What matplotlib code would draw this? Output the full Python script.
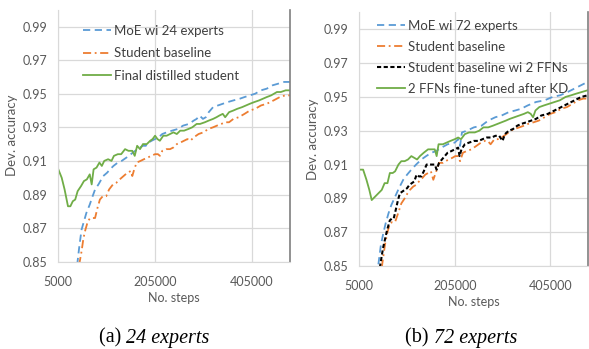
import matplotlib
matplotlib.use("Agg")
import matplotlib.pyplot as plt

# ---- data ----
x_ticks = [5000, 205000, 405000]
y_ticks = [0.85, 0.87, 0.89, 0.91, 0.93, 0.95, 0.97, 0.99]

# (a) 24 experts
moe24_steps = [44000, 48000, 53000, 58000, 63000, 70000, 76000, 81000, 88000, 94000,
               98000, 106000, 112000, 119000, 128000, 136000, 146000, 155000, 164000, 174000,
               180000, 186000, 192000, 198000, 205000, 212000, 220000, 229000, 240000, 252000,
               263000, 275000, 285000, 291000, 297000, 304000, 310000, 316000, 325000, 335000,
               345000, 355000, 367000, 380000, 390000, 401000, 412000, 424000, 436000, 448000,
               460000, 472000, 484000]
moe24_acc = [0.848, 0.858, 0.869, 0.874, 0.879, 0.884, 0.889, 0.893, 0.896, 0.899,
             0.901, 0.903, 0.905, 0.907, 0.909, 0.910, 0.912, 0.914, 0.916, 0.918,
             0.919, 0.919, 0.921, 0.922, 0.923, 0.924, 0.926, 0.927, 0.928, 0.929,
             0.931, 0.932, 0.934, 0.935, 0.937, 0.935, 0.936, 0.939, 0.942, 0.943,
             0.944, 0.945, 0.946, 0.947, 0.948, 0.949, 0.950, 0.952, 0.953, 0.955,
             0.956, 0.957, 0.957]

base24_steps = [48000, 53000, 57000, 61000, 66000, 71000, 76000, 81000, 86000, 91000,
                97000, 104000, 110000, 118000, 125000, 132000, 140000, 148000, 155000, 158000,
                162000, 167000, 175000, 182000, 190000, 197000, 205000, 211000, 215000, 220000,
                228000, 236000, 243000, 250000, 258000, 265000, 272000, 278000, 285000, 295000,
                305000, 315000, 325000, 333000, 342000, 350000, 358000, 367000, 378000, 390000,
                401000, 412000, 424000, 436000, 450000, 463000, 474000, 484000]
base24_acc = [0.848, 0.856, 0.864, 0.869, 0.874, 0.876, 0.876, 0.876, 0.882, 0.887,
              0.889, 0.889, 0.893, 0.896, 0.897, 0.899, 0.901, 0.903, 0.904, 0.901,
              0.905, 0.909, 0.910, 0.911, 0.912, 0.913, 0.914, 0.914, 0.913, 0.916,
              0.917, 0.917, 0.918, 0.920, 0.921, 0.922, 0.923, 0.922, 0.924, 0.926,
              0.927, 0.929, 0.930, 0.931, 0.932, 0.933, 0.933, 0.935, 0.936, 0.938,
              0.940, 0.941, 0.943, 0.944, 0.946, 0.948, 0.949, 0.949]

dist24_steps = [5000, 12000, 18000, 25000, 30000, 35000, 40000, 45000, 52000, 58000,
                64000, 70000, 74000, 78000, 84000, 90000, 95000, 100000, 108000, 115000,
                120000, 128000, 135000, 143000, 150000, 158000, 163000, 168000, 174000, 180000,
                188000, 195000, 200000, 205000, 210000, 215000, 222000, 229000, 236000, 243000,
                250000, 257000, 265000, 274000, 282000, 291000, 298000, 308000, 316000, 325000,
                332000, 338000, 345000, 350000, 358000, 367000, 375000, 385000, 393000, 401000,
                410000, 420000, 428000, 436000, 445000, 457000, 465000, 475000, 484000]
dist24_acc = [0.905, 0.900, 0.893, 0.883, 0.883, 0.886, 0.887, 0.892, 0.895, 0.898,
              0.899, 0.902, 0.896, 0.905, 0.906, 0.909, 0.907, 0.910, 0.911, 0.910,
              0.913, 0.914, 0.914, 0.917, 0.916, 0.916, 0.913, 0.919, 0.917, 0.920,
              0.920, 0.922, 0.923, 0.925, 0.923, 0.922, 0.925, 0.925, 0.926, 0.927,
              0.926, 0.928, 0.928, 0.929, 0.930, 0.932, 0.932, 0.933, 0.934, 0.935,
              0.936, 0.937, 0.938, 0.936, 0.939, 0.940, 0.941, 0.942, 0.943, 0.944,
              0.945, 0.946, 0.947, 0.948, 0.949, 0.951, 0.951, 0.952, 0.952]

# (b) 72 experts
moe72_steps = [45000, 50000, 55000, 60000, 66000, 72000, 80000, 88000, 97000, 105000,
               114000, 124000, 135000, 145000, 156000, 166000, 177000, 190000, 205000, 212000,
               216000, 220000, 230000, 245000, 261000, 275000, 290000, 303000, 318000, 332000,
               344000, 358000, 375000, 393000, 410000, 426000, 442000, 456000, 470000, 484000]
moe72_acc = [0.851, 0.862, 0.869, 0.875, 0.881, 0.886, 0.891, 0.896, 0.901, 0.904,
             0.907, 0.910, 0.913, 0.915, 0.917, 0.918, 0.920, 0.922, 0.923, 0.925,
             0.921, 0.929, 0.930, 0.932, 0.933, 0.936, 0.938, 0.939, 0.941, 0.942,
             0.943, 0.945, 0.947, 0.948, 0.950, 0.951, 0.953, 0.955, 0.957, 0.959]

base72_steps = [52000, 56000, 59000, 64000, 69000, 74000, 80000, 86000, 93000, 100000,
                106000, 111000, 118000, 124000, 130000, 137000, 143000, 149000, 155000, 160000,
                165000, 172000, 180000, 186000, 192000, 200000, 206000, 212000, 216000, 222000,
                230000, 240000, 250000, 260000, 268000, 274000, 280000, 288000, 295000, 303000,
                313000, 322000, 330000, 340000, 350000, 358000, 370000, 381000, 393000, 405000,
                416000, 428000, 440000, 452000, 463000, 474000, 484000]
base72_acc = [0.849, 0.857, 0.863, 0.870, 0.875, 0.876, 0.876, 0.881, 0.887, 0.890,
              0.893, 0.895, 0.897, 0.898, 0.900, 0.902, 0.904, 0.905, 0.906, 0.901,
              0.905, 0.911, 0.911, 0.912, 0.913, 0.914, 0.915, 0.915, 0.912, 0.917,
              0.918, 0.919, 0.921, 0.923, 0.924, 0.924, 0.922, 0.925, 0.925, 0.926,
              0.928, 0.930, 0.931, 0.932, 0.933, 0.934, 0.935, 0.936, 0.938, 0.940,
              0.941, 0.943, 0.944, 0.946, 0.948, 0.949, 0.949]

ffn2_steps = [48000, 52000, 55000, 59000, 63000, 69000, 73000, 77000, 82000, 86000,
              90000, 95000, 100000, 105000, 110000, 115000, 120000, 125000, 130000, 135000,
              140000, 146000, 152000, 158000, 163000, 167000, 172000, 178000, 184000, 190000,
              198000, 205000, 212000, 215000, 219000, 226000, 235000, 245000, 255000, 263000,
              272000, 282000, 290000, 298000, 305000, 310000, 318000, 327000, 336000, 344000,
              355000, 365000, 375000, 386000, 400000, 414000, 428000, 442000, 456000, 470000,
              484000]
ffn2_acc = [0.849, 0.856, 0.861, 0.866, 0.871, 0.877, 0.878, 0.878, 0.884, 0.889,
            0.893, 0.894, 0.895, 0.896, 0.898, 0.899, 0.900, 0.904, 0.903, 0.903,
            0.906, 0.910, 0.910, 0.910, 0.910, 0.907, 0.911, 0.913, 0.915, 0.917,
            0.918, 0.919, 0.920, 0.915, 0.919, 0.922, 0.923, 0.924, 0.924, 0.925,
            0.926, 0.926, 0.927, 0.927, 0.924, 0.928, 0.930, 0.931, 0.933, 0.934,
            0.935, 0.936, 0.937, 0.939, 0.940, 0.942, 0.944, 0.946, 0.948, 0.950,
            0.951]

ft72_steps = [5000, 13000, 20000, 26000, 31000, 38000, 45000, 52000, 58000, 64000,
              69000, 75000, 80000, 87000, 93000, 100000, 107000, 114000, 120000, 126000,
              132000, 140000, 149000, 156000, 163000, 167000, 171000, 180000, 188000, 196000,
              205000, 212000, 218000, 226000, 235000, 247000, 256000, 265000, 275000, 285000,
              294000, 303000, 312000, 320000, 330000, 340000, 350000, 358000, 364000, 369000,
              374000, 382000, 392000, 403000, 414000, 425000, 437000, 449000, 460000, 472000,
              484000]
ft72_acc = [0.907, 0.907, 0.901, 0.895, 0.889, 0.891, 0.893, 0.895, 0.899, 0.899,
            0.905, 0.905, 0.906, 0.910, 0.912, 0.912, 0.913, 0.915, 0.914, 0.913,
            0.915, 0.917, 0.919, 0.919, 0.919, 0.915, 0.922, 0.922, 0.923, 0.924,
            0.925, 0.926, 0.925, 0.928, 0.929, 0.929, 0.930, 0.932, 0.932, 0.933,
            0.934, 0.935, 0.936, 0.937, 0.938, 0.939, 0.940, 0.941, 0.940, 0.938,
            0.942, 0.944, 0.945, 0.946, 0.947, 0.948, 0.950, 0.951, 0.952, 0.953,
            0.954]

BLUE = "#5B9BD5"
ORANGE = "#ED7D31"
GREEN = "#70AD47"
TXT = "#595959"

plt.rcParams["font.family"] = ["Lato", "DejaVu Sans"]

fig = plt.figure(figsize=(5.89, 3.49), dpi=100)
ax1 = fig.add_axes([58.3 / 589, 87.3 / 349, 231.7 / 589, 252.0 / 349])
ax2 = fig.add_axes([359.3 / 589, 83.0 / 349, 228.7 / 589, 253.6 / 349])


def style(ax):
    ax.set_xlim(5000, 484000)
    ax.set_ylim(0.85, 1.0)
    ax.set_xticks(x_ticks)
    ax.set_xticklabels([str(v) for v in x_ticks])
    ax.set_yticks(y_ticks)
    ax.set_yticklabels([f"{v:.2f}" for v in y_ticks])
    ax.grid(True, color="#D9D9D9", lw=0.9)
    ax.set_axisbelow(True)
    ax.tick_params(length=0, labelsize=9, colors=TXT)
    ax.tick_params(axis="x", pad=10)
    ax.tick_params(axis="y", pad=8)
    ax.spines["top"].set_visible(False)
    for s in ("left", "bottom"):
        ax.spines[s].set_color("#D9D9D9")
    ax.spines["right"].set_color("#7F7F7F")
    ax.spines["right"].set_linewidth(1.2)
    ax.set_xlabel("No. steps", fontsize=9, color=TXT, labelpad=3)
    ax.set_ylabel("Dev. accuracy", fontsize=9.5, color=TXT, labelpad=3)


leg_kw = dict(loc="upper left", frameon=False, fontsize=9.5, labelcolor="#404040",
              handlelength=2.1, handletextpad=0.25, borderpad=0, borderaxespad=0)

style(ax1)
ax1.plot(moe24_steps, moe24_acc, color=BLUE, lw=1.3, ls=(0, (4, 2.5)), label="MoE wi 24 experts")
ax1.plot(base24_steps, base24_acc, color=ORANGE, lw=1.3, ls=(0, (4.5, 2, 1, 2)), label="Student baseline")
ax1.plot(dist24_steps, dist24_acc, color=GREEN, lw=1.3, label="Final distilled student")
ax1.legend(bbox_to_anchor=(0.108, 0.94), labelspacing=0.8, **leg_kw)

style(ax2)
ax2.plot(moe72_steps, moe72_acc, color=BLUE, lw=1.3, ls=(0, (4, 2.5)), label="MoE wi 72 experts")
ax2.plot(base72_steps, base72_acc, color=ORANGE, lw=1.3, ls=(0, (4.5, 2, 1, 2)), label="Student baseline")
ax2.plot(ffn2_steps, ffn2_acc, color="black", lw=1.5, ls=(0, (2, 1.2)), label="Student baseline wi 2 FFNs")
ax2.plot(ft72_steps, ft72_acc, color=GREEN, lw=1.3, label="2 FFNs fine-tuned after KD")
ax2.legend(bbox_to_anchor=(0.077, 0.97), labelspacing=0.68, **leg_kw)

# captions: "(a) " upright, "24 experts" italic
serif = ["Liberation Serif", "DejaVu Serif"]
cap_y = 1 - 338 / 349
for cx, pre, rest in [(154.5, "(a) ", "24 experts"), (461, "(b) ", "72 experts")]:
    t = fig.text(0, cap_y, pre + rest, family=serif, fontsize=14.5, alpha=0)
    fig.canvas.draw()
    x0 = cx - t.get_window_extent().width / 2
    t.remove()
    t1 = fig.text(x0 / 589, cap_y, pre, family=serif, fontsize=14.5, va="center")
    fig.canvas.draw()
    w1 = t1.get_window_extent().width
    fig.text((x0 + w1) / 589, cap_y, rest, family=serif, fontsize=14.5,
             style="italic", va="center")

fig.savefig("out.png", dpi=100)
